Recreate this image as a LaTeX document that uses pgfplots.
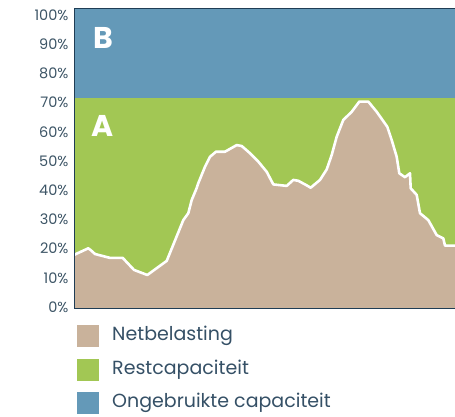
\documentclass[border=0pt]{standalone}
\usepackage{pgfplots}
\pgfplotsset{compat=1.18}
\usepackage{fontspec}
\setmainfont{Poppins}
\definecolor{tanc}{HTML}{C9B29B}
\definecolor{greenc}{HTML}{A2C754}
\definecolor{bluec}{HTML}{6499B8}
\definecolor{navy}{HTML}{1F3D55}
\definecolor{ticktxt}{HTML}{3D5566}

\begin{document}
\begin{tikzpicture}
\path[use as bounding box] (0,0) rectangle (455pt,416pt);
\begin{axis}[
    at={(74pt,108pt)}, anchor=south west,
    width=381pt, height=300pt, scale only axis,
    xmin=0, xmax=381, ymin=0, ymax=100,
    axis line style={navy, line width=0.8pt},
    xtick=\empty,
    % labels sit slightly below the band edges, as in the source
    ytick={0.33,10.07,19.8,29.53,39.27,49,58.73,68.47,78.2,87.93,97.67},
    yticklabels={0\%,10\%,20\%,30\%,40\%,50\%,60\%,70\%,80\%,90\%,100\%},
    yticklabel style={font=\fontsize{14.5}{16}\selectfont, text=ticktxt, xshift=-2pt},
    major tick length=0pt,
    axis on top,
    legend style={at={(3/381,-16/300)}, anchor=north west, draw=none, fill=none,
        font=\fontsize{19}{22}\selectfont, text=navy!90, row sep=10.5pt,
        inner sep=0pt, column sep=0pt},
    legend cell align=left,
    legend image code/.code={\fill[#1, draw=none] (0pt,-13pt) rectangle (22pt,9pt);
        \path (33pt,0pt);},
]
% unused capacity and remaining capacity bands
\addplot[fill=bluec, draw=none, forget plot] coordinates {(0,70) (381,70) (381,100) (0,100)} -- cycle;
\addplot[fill=greenc, draw=none, forget plot] coordinates {(0,0) (381,0) (381,70) (0,70)} -- cycle;

% net load
\addplot[fill=tanc, draw=none, forget plot] coordinates {
(0,17.7) (14.3,19.9) (16.7,19.3) (21,18) (36,16.7) (48.7,16.7) (60,12.7) (73.3,11)
(92.7,15.7) (109.3,29.3) (114.3,31.6) (117.7,36) (122.7,40) (124.3,41.6) (131,47.1)
(136,50.4) (142,52.1) (151,52.1) (162.7,54.3) (167.7,54) (176,51.6) (184.3,48.8)
(192.7,45.4) (199.3,41.2) (212.7,40.7) (219.3,42.7) (224.3,42.4) (231,41.2) (236.7,40.1)
(246,42.7) (252.7,46.2) (257.7,51) (262.7,57.1) (269.3,62.7) (277.7,65.4) (285.3,68.8)
(294.3,68.8) (302.7,65.4) (313.3,60.4) (317.7,56) (322.7,50.4) (325.3,44.9) (331,43.6)
(336,44.9) (336.7,39.9) (342.7,37.7) (346,31.6) (354.3,29.3) (362.7,24.3) (369.3,23.2)
(371,20.8) (381,20.8)} \closedcycle;
\addplot[white, line width=2.6pt, line join=round, forget plot] coordinates {
(0,17.7) (14.3,19.9) (16.7,19.3) (21,18) (36,16.7) (48.7,16.7) (60,12.7) (73.3,11)
(92.7,15.7) (109.3,29.3) (114.3,31.6) (117.7,36) (122.7,40) (124.3,41.6) (131,47.1)
(136,50.4) (142,52.1) (151,52.1) (162.7,54.3) (167.7,54) (176,51.6) (184.3,48.8)
(192.7,45.4) (199.3,41.2) (212.7,40.7) (219.3,42.7) (224.3,42.4) (231,41.2) (236.7,40.1)
(246,42.7) (252.7,46.2) (257.7,51) (262.7,57.1) (269.3,62.7) (277.7,65.4) (285.3,68.8)
(294.3,68.8) (302.7,65.4) (313.3,60.4) (317.7,56) (322.7,50.4) (325.3,44.9) (331,43.6)
(336,44.9) (336.7,39.9) (342.7,37.7) (346,31.6) (354.3,29.3) (362.7,24.3) (369.3,23.2)
(371,20.8) (381,20.8)};

\addlegendimage{fill=tanc, draw=none}
\addlegendentry{Netbelasting}
\addlegendimage{fill=greenc, draw=none}
\addlegendentry{Restcapaciteit}
\addlegendimage{fill=bluec, draw=none}
\addlegendentry{Ongebruikte capaciteit}

\node[text=white, font=\fontsize{30}{30}\selectfont\bfseries] at (axis cs:29,60.7) {A};
\node[text=white, font=\fontsize{30}{30}\selectfont\bfseries] at (axis cs:29,90) {B};
\end{axis}
\end{tikzpicture}
\end{document}
